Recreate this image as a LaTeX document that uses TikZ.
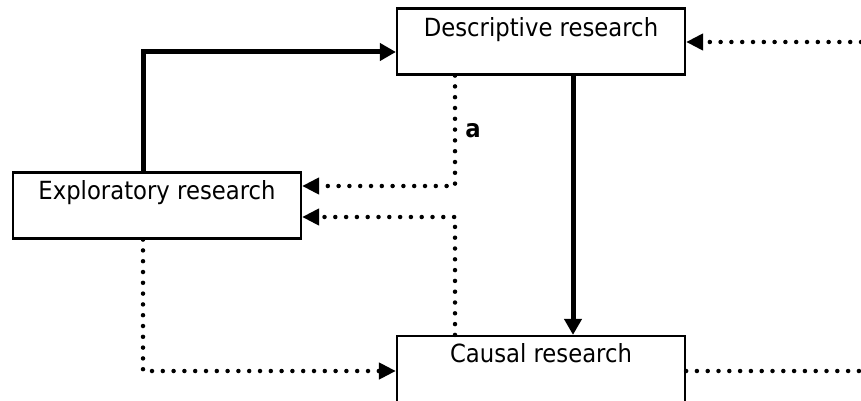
\documentclass[tikz,border=0pt]{standalone}
\usepackage{fontspec}
\setmainfont{DejaVu Sans}[FakeStretch=0.91]
\usetikzlibrary{arrows.meta}
\begin{document}
\begin{tikzpicture}[x=1pt,y=-1pt,
  box/.style={draw,line width=2.2pt,minimum width=288pt,minimum height=66pt,inner sep=0pt},
  boxtext/.style={anchor=base,inner sep=0pt,font=\fontsize{25}{30}\selectfont},
  solidlink/.style={line width=5pt,-{Triangle[length=16pt,width=17pt]}},
  dotlink/.style={line width=4.5pt,line cap=round,dash pattern=on 0pt off 10.8pt,
    -{Triangle[length=17pt,width=16pt]}},
  dotline/.style={line width=4.5pt,line cap=round,dash pattern=on 0pt off 10.8pt}]
\useasboundingbox (0,0) rectangle (861,401);
\clip (0,0) rectangle (861,401);
\fill[white] (0,0) rectangle (861,401);

% boxes
\node[box] (desc) at (541,41.5) {};
\node[box] (expl) at (157,205.5) {};
\node[box] (caus) at (541,369) {};

% box captions
\node[boxtext] (desct) at ([yshift=-29pt]desc.north) {Descriptive research};
\node[boxtext] (explt) at ([yshift=-28pt]expl.north) {Exploratory research};
\node[boxtext] (caust) at ([yshift=-28pt]caus.north) {Causal research};

% free ends at the right edge
\coordinate (inR) at (861,42);
\coordinate (outR) at (861,371);

% solid flows
\draw[solidlink] (expl.north -| 143,0) |- (desc.west |- 0,52);
\draw[solidlink] (desc.south -| 573,0) -- (caus.north -| 573,0);

% dotted flows
\draw[dotlink] (inR) -- (desc.east |- inR);
\draw[dotlink] (desc.south -| 455,0) |- ([yshift=19.5pt]expl.east);
\draw[dotlink] (caus.north -| 455,0) |- ([yshift=-11.5pt]expl.east);
\draw[dotlink] (expl.south -| 143,0) |- (caus.west |- outR);
\draw[dotline] (caus.east |- outR) -- (outR);

% label on the feedback path
\node[font=\fontsize{25}{30}\selectfont\bfseries,anchor=base] (alab) at (473,137) {a};
\end{tikzpicture}
\end{document}
